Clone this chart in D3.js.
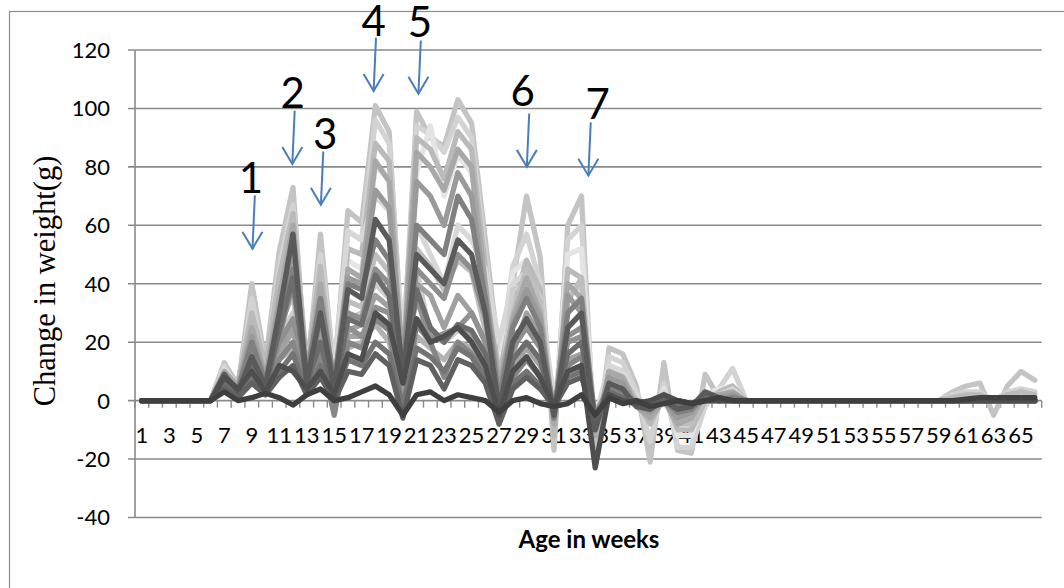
<!DOCTYPE html>
<html><head><meta charset="utf-8">
<script src="https://cdn.jsdelivr.net/npm/d3@7"></script>
<style>html,body{margin:0;padding:0;background:#fff;} svg{display:block;}</style>
</head><body>
<svg id="chart" width="1064" height="588"></svg>
<script>
// ---------------- DATA ----------------
const categories = [1,2,3,4,5,6,7,8,9,10,11,12,13,14,15,16,17,18,19,20,21,22,23,24,25,26,27,28,29,30,31,32,33,34,35,36,37,38,39,40,41,42,43,44,45,46,47,48,49,50,51,52,53,54,55,56,57,58,59,60,61,62,63,64,65,66];
const xTickLabels = [1,3,5,7,9,11,13,15,17,19,21,23,25,27,29,31,33,35,37,39,41,43,45,47,49,51,53,55,57,59,61,63,65];
const yTicks = [-40,-20,0,20,40,60,80,100,120];

const seriesA = [0,0,0,0,0,0, 13,5,40,13,51,73,7,57,9,65, 61,101,92,13,99,90,87,103,95,55, 15,40,70,49,-17,60,70,-21,18,16, 5,-21,13,-17,-18,9,1,4,0, 0,0,0,0,0,0,0,0,0,0,0,0,0,0, 3,5,6,-5,5,10,7];
const seriesB = [0,0,0,0,0,0, 12,4,35,11,46,67,10,50,11,58, 55,96,88,18,94,91,85,97,90,50, 12,46,57,40,-10,55,60,-16,15,13, 3,-14,6,-16,-16,-2,4,11,0, 0,0,0,0,0,0,0,0,0,0,0,0,0,0, 2,3,3,0,3,4,3];
const seriesC = [0,0,0,0,0,0, 11,6,30,12,42,64,12,46,8,52, 50,88,82,16,90,86,76,92,86,46, 8,32,48,38,-12,45,42,-18,12,10, 0,-8,2,-10,-10,0,3,5,0, 0,0,0,0,0,0,0,0,0,0,0,0,0,0, 1,2,2,0,2,3,2];
const seriesD = [0,0,0,0,0,0, 10,5,28,10,38,58,14,42,12,48, 45,80,76,22,78,94,70,84,78,42, 10,44,48,38,-8,50,52,-12,10,8, 2,-6,4,-12,-12,2,4,5,0, 0,0,0,0,0,0,0,0,0,0,0,0,0,0, 0,0,0,0,0,0,0];
const seriesE = [0,0,0,0,0,0, 10,5,25,8,35,60,9,40,5,45, 42,82,75,12,85,80,72,86,80,40, 5,28,42,30,-8,40,35,-12,10,8, -2,-6,0,-8,-6,2,2,3,0, 0,0,0,0,0,0,0,0,0,0,0,0,0,0, 0,0,0,0,0,0,0];
const seriesF = [0,0,0,0,0,0, 9,4,22,7,32,50,8,35,6,42, 40,72,66,10,75,70,60,78,70,36, 3,26,38,28,-6,36,30,-10,8,6, -2,-4,0,-6,-4,2,1,2,0, 0,0,0,0,0,0,0,0,0,0,0,0,0,0, 0,0,0,0,0,0,0];
const seriesG = [0,0,0,0,0,0, 9,3,15,5,30,57,6,30,4,38, 35,62,55,8,50,45,40,55,50,30, -3,20,28,20,-5,25,30,-10,6,4, -2,-3,0,-3,-2,3,1,0,0, 0,0,0,0,0,0,0,0,0,0,0,0,0,0, 0,0,0,0,0,0,0];
const seriesH = [0,0,0,0,0,0, 8,4,20,6,28,45,8,35,6,40, 38,55,48,10,60,55,50,70,62,35, 0,25,35,25,-6,30,35,-8,5,3, -1,-2,0,-4,-3,2,0,1,0, 0,0,0,0,0,0,0,0,0,0,0,0,0,0, 0,0,0,0,0,0,0];
const seriesI = [0,0,0,0,0,0, 7,3,18,5,22,40,5,28,3,30, 28,45,40,8,45,40,35,50,45,28, -2,18,25,18,-4,22,25,-6,4,2, -1,-2,0,-3,-2,1,0,1,0, 0,0,0,0,0,0,0,0,0,0,0,0,0,0, 0,0,0,0,0,0,0];
const seriesJ = [0,0,0,0,0,0, 6,2,12,4,24,42,6,20,2,28, 26,43,36,6,38,25,20,26,24,16, -4,14,20,14,-3,16,20,-6,3,1, -1,-1,0,-2,-1,1,0,0,0, 0,0,0,0,0,0,0,0,0,0,0,0,0,0, 0,0,0,0,0,0,0];
const seriesK = [0,0,0,0,0,0, 8,4,10,3,12,10,4,10,2,16, 14,30,26,6,28,20,22,25,20,12, -5,10,15,8,-2,10,12,-23,2,0, -1,0,2,0,-1,0,0,0,0, 0,0,0,0,0,0,0,0,0,0,0,0,0,0, 0,0,0,0,0,0,0];
const seriesL = [0,0,0,0,0,0, 3,0,1,2.5,1,-1.5,2,4,0,1, 3,5,2,-5,2,3,0,2,1,0, -4,0,1,-1,-2,-1,2,-5,1,-1, 0,-2,-1,0,-1,0,1,0,0, 0,0,0,0,0,0,0,0,0,0,0,0,0,0, 0,0.5,1,1,1,1,1];
const seriesM = [0,0,0,0,0,0, 5,1,8,2,10,16,3,12,1,14, 12,20,16,-2,18,15,10,18,15,8, -6,6,10,5,-3,8,10,-5,2,0, -1,-1,1,-1,-1,0,0,0,0, 0,0,0,0,0,0,0,0,0,0,0,0,0,0, 0,0,0,0,0,0,0];
const seriesN = [0,0,0,0,0,0, 9,3,12,4,18,26,5,22,-4,24, 26,36,32,5,40,36,25,36,30,20, -8,16,30,22,-4,25,30,-8,4,2, -2,-3,0,-4,-3,1,0,1,0, 0,0,0,0,0,0,0,0,0,0,0,0,0,0, 0,0,0,0,0,0,0];
const seriesO = [0,0,0,0,0,0, 10,4,14,5,22,30,6,26,-2,28, 30,40,35,2,45,22,20,24,22,18, -2,38,40,30,-6,35,40,-10,6,4, -1,-4,0,-6,-5,2,1,2,0, 0,0,0,0,0,0,0,0,0,0,0,0,0,0, 0,0,0,0,0,0,0];
const seriesP = [0,0,0,0,0,0, 6,2,9,3,14,20,4,16,-5,20, 18,28,24,-3,26,20,8,20,16,10, -6,8,14,8,-4,12,15,-6,3,1, -1,-2,1,-2,-2,0,0,0,0, 0,0,0,0,0,0,0,0,0,0,0,0,0,0, 0,0,0,0,0,0,0];
const seriesQ = [0,0,0,0,0,0, 9,3,16,6,26,36,6,30,2,34, 32,50,44,6,52,46,38,48,44,24, 0,30,45,34,-8,34,42,-14,10,8, 0,-6,2,-8,-8,1,2,3,0, 0,0,0,0,0,0,0,0,0,0,0,0,0,0, 0,0,0,0,0,0,0];
const seriesR = [0,0,0,0,0,0, 4,1,6,2,8,12,2,8,0,10, 9,16,12,-6,14,12,4,14,12,6, -8,4,8,4,-2,6,8,-6,1,0, 0,-1,0,0,-1,0,0,0,0, 0,0,0,0,0,0,0,0,0,0,0,0,0,0, 0,0,0,0,0,0,0];
const seriesS = [0,0,0,0,0,0, 8,3,12,4,16,24,4,20,2,22, 22,30,26,3,28,24,20,26,22,14, -3,12,18,12,-3,14,16,-5,5,3, 0,-3,1,-2,-2,1,0,1,0, 0,0,0,0,0,0,0,0,0,0,0,0,0,0, 0,0,0,0,0,0,0];
const seriesT = [0,0,0,0,0,0, 7,3,10,4,14,18,4,15,0,18, 20,26,20,2,22,18,14,20,18,10, -2,10,14,9,-3,10,12,-4,3,2, 0,-2,1,-1,-1,0,0,0,0, 0,0,0,0,0,0,0,0,0,0,0,0,0,0, 0,0,0,0,0,0,0];
const seriesU = [0,0,0,0,0,0, 11,5,20,9,30,40,12,36,10,58, 55,70,65,25,60,50,40,60,55,45, 20,40,44,35,0,30,36,-6,12,10, 2,-4,3,-6,-6,3,2,4,0, 0,0,0,0,0,0,0,0,0,0,0,0,0,0, 0,0,0,0,0,0,0];
const seriesV = [0,0,0,0,0,0, 7,2,10,6,20,28,10,18,4,25, 22,32,30,12,35,21,23,25,30,20, -3,22,26,20,-2,20,22,-5,4,2, -1,-2,1,-2,-2,1,0,0,0, 0,0,0,0,0,0,0,0,0,0,0,0,0,0, 0,0,0,0,0,0,0];

// annotations: label and the (category, value) point each arrow aims at
const annoLabels = ["1","2","3","4","5","6","7"];
const annoCategory = [9.05, 11.95, 14.03, 17.87, 21.13, 29.02, 33.5];
const annoValue = [52, 81, 67, 106, 105, 80, 77];

// ---------------- STYLE / LAYOUT ----------------
const seriesDraw = [
  [seriesA,"#c4c4c4"],[seriesB,"#d3d3d3"],[seriesD,"#e4e4e4"],[seriesC,"#bababa"],
  [seriesU,"#d8d8d8"],[seriesO,"#cdcdcd"],[seriesQ,"#bebebe"],[seriesE,"#a8a8a8"],[seriesT,"#b2b2b2"],
  [seriesS,"#a3a3a3"],[seriesN,"#a0a0a0"],[seriesF,"#9a9a9a"],[seriesV,"#909090"],[seriesI,"#8e8e8e"],
  [seriesP,"#868686"],[seriesH,"#808080"],[seriesM,"#747474"],[seriesJ,"#6c6c6c"],
  [seriesG,"#5a5a5a"],[seriesR,"#606060"],[seriesK,"#4e4e4e"],[seriesL,"#3f3f3f"]
];
const labelDx = [-4,-2,2,-2.4,-0.8,-6.6,7];
const labelDy = [-2,-3,-3,-1.5,-4,-8,-3];

const plotLeft = 135, plotRight = 1041.7, plotTop = 50, plotBottom = 517.5;
const gridColor = "#8a8a8a";

const svg = d3.select("#chart");

// outer chart border (only top and left visible in frame)
svg.append("rect").attr("x",9.5).attr("y",11.5).attr("width",1200).attr("height",800)
  .attr("fill","none").attr("stroke","#8c8c8c").attr("stroke-width",1.2);

const xBand = d3.scaleBand().domain(categories).range([plotLeft, plotRight]).padding(0);
const step = xBand.step();
const xc = c => xBand(c) + step/2;
const xFrac = c => xBand(1) + step/2 + (c-1)*step;
const y = d3.scaleLinear().domain([-40,120]).range([plotBottom, plotTop]);

// gridlines
svg.append("g").selectAll("line").data(yTicks).join("line")
  .attr("x1", plotLeft-7).attr("x2", plotRight)
  .attr("y1", d=>y(d)).attr("y2", d=>y(d))
  .attr("stroke", gridColor).attr("stroke-width",1.6);

// y axis
const yAxis = d3.axisLeft(y).tickValues(yTicks).tickSize(0).tickPadding(25).tickFormat(d => String(d));
const gy = svg.append("g").attr("transform",`translate(${plotLeft},0)`).call(yAxis);
gy.select(".domain").remove();
gy.selectAll("text").attr("font-family","Lato").attr("font-size",22).attr("fill","#000").attr("dy","0.34em");
svg.append("line").attr("x1",plotLeft).attr("x2",plotLeft).attr("y1",plotTop).attr("y2",plotBottom)
  .attr("stroke",gridColor).attr("stroke-width",1.6);

// x axis (at 0) with minor ticks at category boundaries
const y0 = y(0);
const boundaries = categories.map(c => xBand(c)).concat([plotRight]);
svg.append("g").selectAll("line").data(boundaries).join("line")
  .attr("x1",d=>d).attr("x2",d=>d).attr("y1",y0).attr("y2",y0+7)
  .attr("stroke",gridColor).attr("stroke-width",1.4);

const xAxis = d3.axisBottom(xBand).tickValues(xTickLabels).tickSize(0).tickPadding(0);
const gx = svg.append("g").attr("transform",`translate(0,${y0})`).call(xAxis);
gx.select(".domain").remove();
gx.selectAll("text").attr("font-family","Lato").attr("font-size",22).attr("fill","#000")
  .attr("dy",null).attr("y",42);

// lines
const line = d3.line().x((d,i)=>xc(categories[i])).y(d=>y(d));
svg.append("g").selectAll("path").data(seriesDraw).join("path")
  .attr("d", d=>line(d[0]))
  .attr("fill","none").attr("stroke",d=>d[1]).attr("stroke-width",5.3)
  .attr("stroke-linejoin","round").attr("stroke-linecap","round");

// titles
svg.append("text").attr("x",589).attr("y",548).attr("text-anchor","middle")
  .attr("font-family","Lato").attr("font-weight","bold").attr("font-size",24).attr("fill","#000")
  .text("Age in weeks");
svg.append("text").attr("transform","translate(55,281) rotate(-90)").attr("text-anchor","middle")
  .attr("font-family","Liberation Serif").attr("font-size",30.5).attr("fill","#000")
  .text("Change in weight(g)");

// annotations
const arrowColor = "#4a7ebb";
const ga = svg.append("g");
annoLabels.forEach((lab,i)=>{
  const tx = xFrac(annoCategory[i]), ty = y(annoValue[i]);
  const sx = tx + 2.4, sy = ty - 53.3;
  ga.append("line").attr("x1",sx).attr("y1",sy).attr("x2",tx).attr("y2",ty)
    .attr("stroke",arrowColor).attr("stroke-width",2);
  ga.append("path").attr("d",`M${tx-10},${ty-17}L${tx},${ty}L${tx+10},${ty-17}`)
    .attr("fill","none").attr("stroke",arrowColor).attr("stroke-width",2);
  ga.append("text").attr("x",sx+labelDx[i]).attr("y",sy+labelDy[i]).attr("text-anchor","middle")
    .attr("font-family","Lato").attr("font-size",42).attr("fill","#000").text(lab);
});
</script>
</body></html>
